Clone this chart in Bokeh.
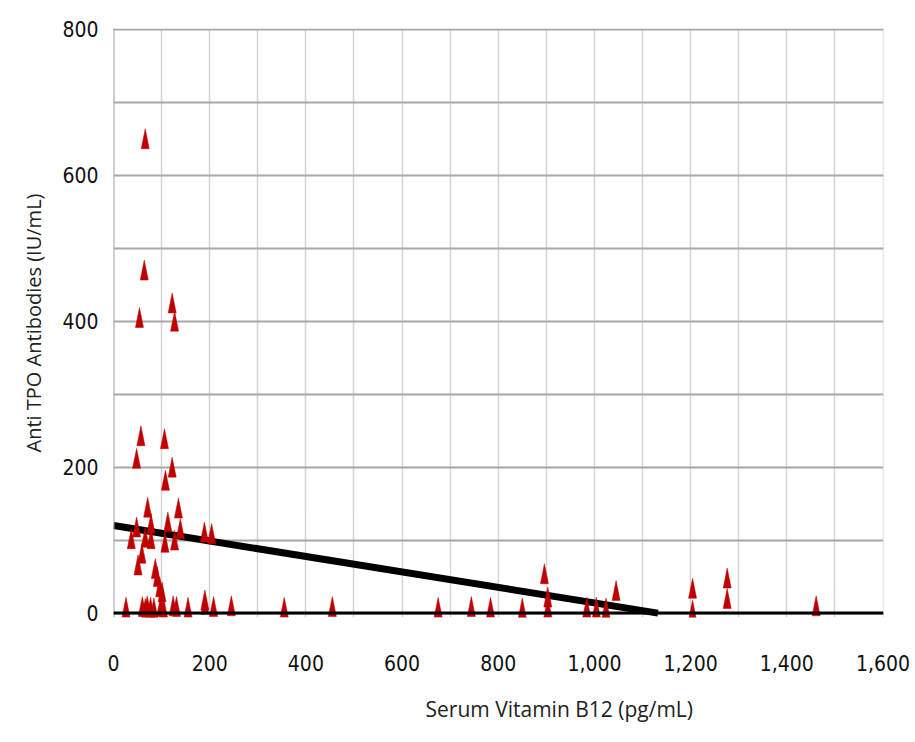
import numpy as np
from bokeh.plotting import figure
from bokeh.models import (FixedTicker, NumeralTickFormatter, Span, Title,
                          ColumnDataSource, Range1d)
from bokeh.embed import file_html
from bokeh.resources import INLINE

# Serum vitamin B12 (pg/mL) and anti-TPO antibodies (IU/mL) per patient
b12 = [66, 64, 54, 122, 127,
       57, 106, 48, 122, 108, 71, 135, 48, 78, 113, 139, 37, 66, 78, 107, 127,
       189, 204, 59, 51, 87, 91, 96, 101,
       26, 60, 66, 70, 77, 84, 98, 104, 124, 131, 155, 190, 208, 245, 355,
       455, 675, 744, 784, 850, 984, 1004, 1024, 1204, 1461,
       190, 903, 896, 1045, 1204, 1276, 1276, 903]
tpo = [650, 470, 405, 425, 400,
       243, 239, 212, 200, 182, 145, 144, 118, 123, 125, 116, 102, 104, 102, 97, 100,
       111, 109, 82, 66, 61, 50, 36, 29,
       8, 9, 6, 10, 8, 7, 9, 8, 10, 9, 8, 12, 9, 10, 8,
       9, 8, 9, 8, 7, 8, 8, 7, 4, 10,
       18, 22, 54, 31, 34, 48, 20, 8]

x_ticks = [0, 200, 400, 600, 800, 1000, 1200, 1400, 1600]
x_minor = [100, 300, 500, 700, 900, 1100, 1300, 1500]
y_ticks = [0, 200, 400, 600, 800]
y_minor = [100, 300, 500, 700]

# linear trend line
fit_intercept = 120.0
fit_slope = -0.106

W, H = 915, 742
BL, BR, BT, BB = 113, 32, 28, 124
x_lo, x_hi = 0, 1601
y_lo, y_hi = -6, 801

p = figure(width=W, height=H, x_range=Range1d(x_lo, x_hi), y_range=Range1d(y_lo, y_hi),
           output_backend="svg", toolbar_location=None,
           min_border_left=BL, min_border_right=BR, min_border_top=BT, min_border_bottom=BB)
p.outline_line_color = None
p.background_fill_color = "white"
p.border_fill_color = "white"

tick_font = "DejaVu Sans Condensed"

for ax in (p.xaxis[0], p.yaxis[0]):
    ax.axis_line_color = None
    ax.major_tick_line_color = None
    ax.minor_tick_line_color = None
    ax.major_label_text_font = tick_font
    ax.major_label_text_font_size = "21px"
    ax.major_label_text_color = "#111111"

p.xaxis.ticker = FixedTicker(ticks=x_ticks, minor_ticks=x_minor)
p.xaxis.formatter = NumeralTickFormatter(format="0,0")
p.xaxis.major_label_standoff = 31
p.yaxis.ticker = FixedTicker(ticks=y_ticks, minor_ticks=y_minor)
p.yaxis.major_label_standoff = 9

p.yaxis.axis_label = "Anti TPO Antibodies (IU/mL)"
p.yaxis.axis_label_text_font = "Open Sans"
p.yaxis.axis_label_text_font_style = "normal"
p.yaxis.axis_label_text_font_size = "20px"
p.yaxis.axis_label_text_color = "#222222"
p.yaxis.axis_label_standoff = 12

p.xgrid.grid_line_color = "#d4d4d4"
p.xgrid.grid_line_width = 1.5
p.xgrid.minor_grid_line_color = "#d4d4d4"
p.xgrid.minor_grid_line_width = 1.5
p.ygrid.grid_line_color = "#a8a8a8"
p.ygrid.grid_line_width = 2
p.ygrid.minor_grid_line_color = "#a8a8a8"
p.ygrid.minor_grid_line_width = 2

# left edge and zero baseline
p.add_layout(Span(location=0, dimension="height", line_color="#a0a0a0", line_width=2))
p.add_layout(Span(location=0, dimension="width", line_color="black", line_width=3))

# trend line, stopped where it reaches zero
x_end = -fit_intercept / fit_slope
p.line(x=[0, x_end], y=[fit_intercept, fit_intercept + fit_slope * x_end],
       line_color="black", line_width=7)

# slender triangle markers sized in pixels
frame_w = W - BL - BR
frame_h = H - BT - BB
ux = (x_hi - x_lo) / frame_w
uy = (y_hi - y_lo) / frame_h
hw, hh = 4.0 * ux, 10.0 * uy
xs = [[x - hw, x, x + hw] for x in b12]
ys = [[y - hh, y + hh, y - hh] for y in tpo]
p.patches(xs="xs", ys="ys", source=ColumnDataSource(dict(xs=xs, ys=ys)),
          fill_color="#c00000", line_color="#c00000", line_width=0.5)

# x-axis caption, set right of centre under the axis
p.add_layout(Title(text="Serum Vitamin B12 (pg/mL)", align="left", offset=312,
                   standoff=39,
                   text_font="Open Sans", text_font_style="normal",
                   text_font_size="21px", text_color="#222222"), "below")

open("out.html", "w").write(file_html(p, INLINE))
